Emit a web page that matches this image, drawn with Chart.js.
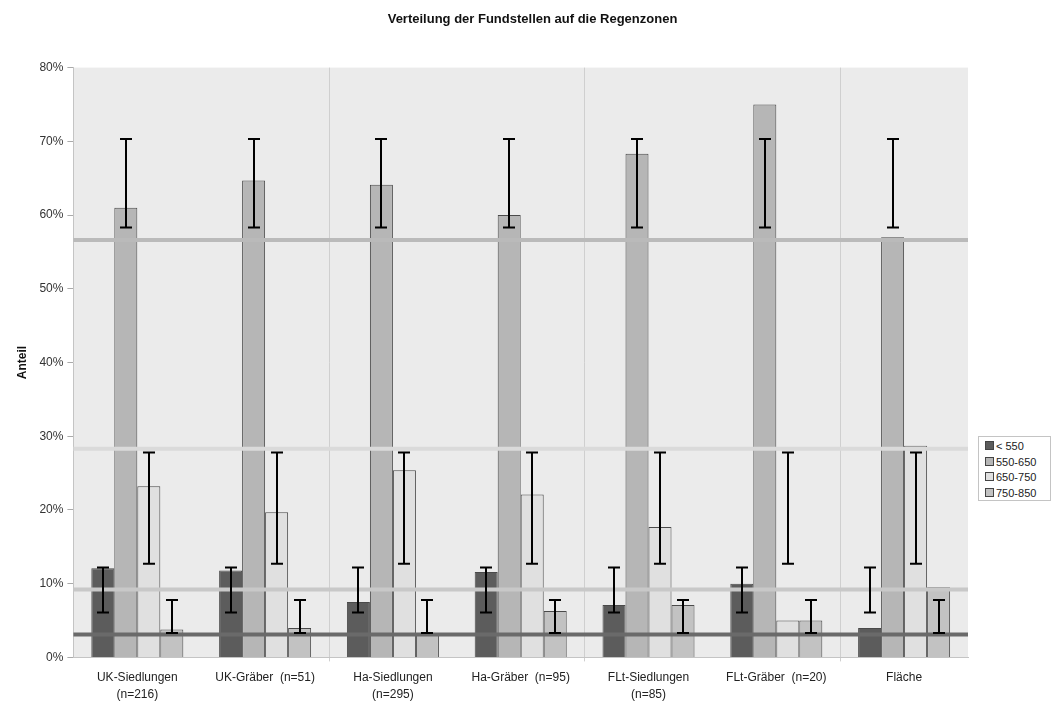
<!DOCTYPE html>
<html>
<head>
<meta charset="utf-8">
<script src="https://cdn.jsdelivr.net/npm/chart.js@4.4.1/dist/chart.umd.min.js"></script>
<style>
    html, body { margin: 0; padding: 0; background: #fff; }
    #wrap { position: relative; width: 1058px; height: 702px; }
    #legend {
        position: absolute; left: 978px; top: 436px; width: 73px; height: 65px;
        box-sizing: border-box; border: 1px solid #c4c4c4; background: #fff;
        font: 11px "Liberation Sans", Arial, sans-serif; color: #222; padding: 2px 0 0 6px;
    }
    #legend div { height: 15.5px; line-height: 15.5px; white-space: nowrap; }
    #legend span { display: inline-block; width: 7px; height: 7px; border: 1px solid #444; margin-right: 2px; }
</style>
</head>
<body>
<div id="wrap">
    <canvas id="regenChart" width="1058" height="702"></canvas>
    <div id="legend"></div>
</div>
<script>
// categories (x axis)
const categories = [
    ["UK-Siedlungen", "(n=216)"],
    "UK-Gräber  (n=51)",
    ["Ha-Siedlungen", "(n=295)"],
    "Ha-Gräber  (n=95)",
    ["FLt-Siedlungen", "(n=85)"],
    "FLt-Gräber  (n=20)",
    "Fläche"
];

// series names (rain zones)
const seriesNames = ["< 550", "550-650", "650-750", "750-850"];

// share per zone in %
const zoneBelow550 = [12.1, 11.8, 7.5, 11.6, 7.1, 10.0, 4.0];
const zone550to650 = [61.0, 64.7, 64.1, 60.0, 68.3, 75.0, 57.0];
const zone650to750 = [23.2, 19.7, 25.4, 22.1, 17.7, 5.0, 28.7];
const zone750to850 = [3.8, 4.0, 3.2, 6.3, 7.1, 5.0, 9.5];

// error ranges per series (same for every category)
const errLow = [6.1, 58.3, 12.7, 3.3];
const errHigh = [12.2, 70.3, 27.8, 7.8];

// horizontal reference lines
const refLines = [3.1, 9.2, 28.3, 56.6];

// y ticks
const yMin = 0, yMax = 80, yStep = 10;

const fillColors = ["#5c5c5c", "#b6b6b6", "#e0e0e0", "#c2c2c2"];
const refColors = ["#6a6a6a", "#c8c8c8", "#dadada", "#bababa"];

const seriesValues = [zoneBelow550, zone550to650, zone650to750, zone750to850];

// grey plot background
const plotBackground = {
    id: "plotBackground",
    beforeDraw(chart) {
        const { ctx, chartArea: a } = chart;
        ctx.save();
        ctx.fillStyle = "#ebebeb";
        ctx.fillRect(a.left, a.top, a.right - a.left, a.bottom - a.top);
        ctx.restore();
    }
};

// reference lines + error bars on top of the bars
const overlays = {
    id: "overlays",
    afterDatasetsDraw(chart) {
        const { ctx, chartArea: a } = chart;
        const yScale = chart.scales.y;
        ctx.save();
        refLines.forEach((v, i) => {
            const py = yScale.getPixelForValue(v);
            ctx.strokeStyle = refColors[i];
            ctx.lineWidth = 4;
            ctx.beginPath();
            ctx.moveTo(a.left, py);
            ctx.lineTo(a.right, py);
            ctx.stroke();
        });
        ctx.strokeStyle = "#000";
        ctx.lineWidth = 2;
        chart.data.datasets.forEach((ds, di) => {
            const meta = chart.getDatasetMeta(di);
            const yLo = yScale.getPixelForValue(errLow[di]);
            const yHi = yScale.getPixelForValue(errHigh[di]);
            meta.data.forEach(bar => {
                const x = Math.round(bar.x);
                ctx.beginPath();
                ctx.moveTo(x, yLo); ctx.lineTo(x, yHi);
                ctx.moveTo(x - 6, yLo); ctx.lineTo(x + 6, yLo);
                ctx.moveTo(x - 6, yHi); ctx.lineTo(x + 6, yHi);
                ctx.stroke();
            });
        });
        ctx.restore();
    }
};

document.addEventListener("DOMContentLoaded", () => {
    const canvas = document.getElementById("regenChart");
    const font = "'Liberation Sans', Arial, sans-serif";

    new Chart(canvas.getContext("2d"), {
        type: "bar",
        data: {
            labels: categories,
            datasets: seriesNames.map((name, i) => ({
                label: name,
                data: seriesValues[i],
                backgroundColor: fillColors[i],
                borderColor: "#4a4a4a",
                borderWidth: 1,
                categoryPercentage: 0.72,
                barPercentage: 1.0
            }))
        },
        options: {
            responsive: false,
            animation: false,
            layout: { padding: { left: 15, right: 8, top: 0, bottom: 0 } },
            plugins: {
                legend: { display: false },
                tooltip: { enabled: false },
                title: {
                    display: true,
                    text: "Verteilung der Fundstellen auf die Regenzonen",
                    color: "#111",
                    font: { family: font, size: 13, weight: "bold" },
                    padding: { top: 12, bottom: 40 }
                }
            },
            scales: {
                x: {
                    grid: {
                        offset: true,
                        color: c => (c.index === 2 || c.index === 4 || c.index === 6) ? "#cfcfcf" : "rgba(0,0,0,0)",
                        tickLength: 4
                    },
                    border: { color: "#c4c4c4" },
                    ticks: {
                        autoSkip: false,
                        maxRotation: 0,
                        color: "#222",
                        padding: 8,
                        font: { family: font, size: 12, lineHeight: 1.4 }
                    },
                    afterFit: s => { s.height -= 9; }
                },
                y: {
                    min: yMin,
                    max: yMax,
                    grid: { drawOnChartArea: false, tickLength: 6, color: "#aaa" },
                    border: { color: "#c4c4c4" },
                    ticks: {
                        stepSize: yStep,
                        color: "#333",
                        padding: 4,
                        font: { family: font, size: 12 },
                        callback: v => v + "%"
                    },
                    title: {
                        display: true,
                        text: "Anteil",
                        color: "#111",
                        font: { family: font, size: 12, weight: "bold" },
                        padding: { top: 0, bottom: 6 }
                    }
                },
                // empty right axis that keeps room for the legend
                yRight: {
                    position: "right",
                    display: true,
                    grid: { display: false },
                    border: { display: false },
                    ticks: { display: false },
                    afterFit: s => { s.width = 82; }
                }
            }
        },
        plugins: [plotBackground, overlays]
    });

    // html legend
    const legend = document.getElementById("legend");
    seriesNames.forEach((name, i) => {
        const row = document.createElement("div");
        row.innerHTML = '<span style="background:' + fillColors[i] + '"></span>' + name;
        legend.appendChild(row);
    });
});
</script>
</body>
</html>
